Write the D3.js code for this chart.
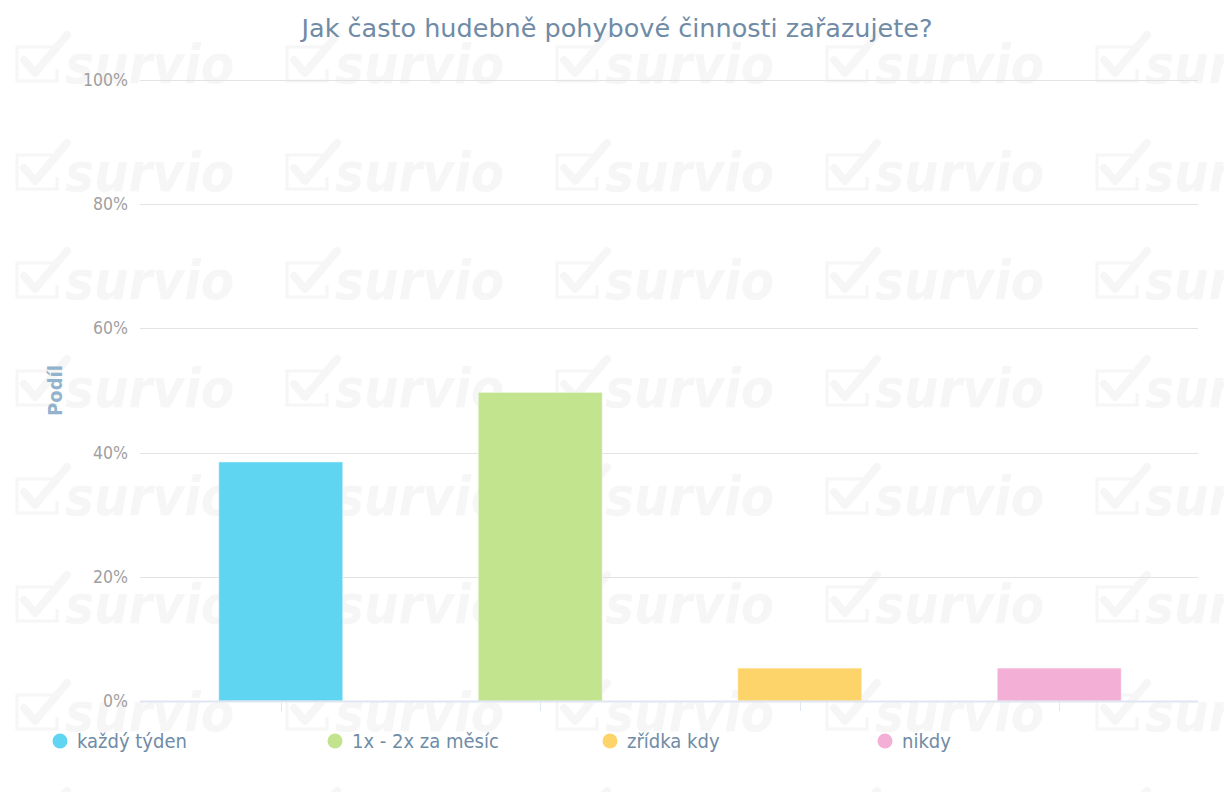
<!DOCTYPE html>
<html>
<head>
<meta charset="utf-8">
<script src="https://cdn.jsdelivr.net/npm/d3@7"></script>
<style>
  body { margin: 0; background: #fff; }
  svg { display: block; }
</style>
</head>
<body>
<div id="chart"></div>
<script>
// data
var categories = ["každý týden", "1x - 2x za měsíc", "zřídka kdy", "nikdy"];
var values = [38.5, 49.7, 5.3, 5.3];
var colors = ["#60d5f1", "#c2e48f", "#fcd469", "#f3afd5"];
var yTicks = [0, 20, 40, 60, 80, 100];

var W = 1224, H = 792;
var margin = {top: 80, right: 26, bottom: 91, left: 140};

var svg = d3.select("#chart")
  .append("svg")
    .attr("width", W)
    .attr("height", H);

// watermark, one tile repeated through a pattern
var pat = svg.append("defs")
  .append("pattern")
    .attr("id", "wm")
    .attr("patternUnits", "userSpaceOnUse")
    .attr("x", 15)
    .attr("y", -7)
    .attr("width", 270)
    .attr("height", 108);

pat.append("path")
  .attr("d", "M40,54 L2,54 L2,88 L42,88 L42,76")
  .attr("fill", "none")
  .attr("stroke", "#f6f6f6")
  .attr("stroke-width", 3);
pat.append("path")
  .attr("d", "M9,67 L20,80 L52,42")
  .attr("fill", "none")
  .attr("stroke", "#f6f6f6")
  .attr("stroke-width", 8)
  .attr("stroke-linecap", "round")
  .attr("stroke-linejoin", "round");
pat.append("text")
  .attr("x", 50)
  .attr("y", 90)
  .attr("font-family", "DejaVu Sans Condensed")
  .attr("font-weight", "bold")
  .attr("font-style", "italic")
  .attr("font-size", "54px")
  .attr("fill", "#f6f6f6")
  .text("survio");

svg.append("rect")
  .attr("width", W)
  .attr("height", H)
  .attr("fill", "url(#wm)");

var x = d3.scalePoint()
  .domain(categories)
  .range([151, 1189])
  .padding(0.5);

var y = d3.scaleLinear()
  .domain([0, 100])
  .range([H - margin.bottom, margin.top]);

var barW = x.step() * 0.478;

// grid lines
svg.append("g")
  .selectAll("line")
  .data(yTicks.filter(function(d) { return d > 0; }))
  .enter()
  .append("line")
    .attr("x1", margin.left)
    .attr("x2", W - margin.right)
    .attr("y1", function(d) { return Math.round(y(d)) + 0.5; })
    .attr("y2", function(d) { return Math.round(y(d)) + 0.5; })
    .attr("stroke", "#e3e3e3")
    .attr("stroke-width", 1);

// y labels
svg.append("g")
  .selectAll("text")
  .data(yTicks)
  .enter()
  .append("text")
    .attr("x", 128)
    .attr("y", function(d) { return y(d) + 6; })
    .attr("text-anchor", "end")
    .attr("font-family", "DejaVu Sans Condensed")
    .attr("font-size", "17.5px")
    .attr("fill", "#a0a0a0")
    .text(function(d) { return d + "%"; });

// y title
svg.append("text")
  .attr("transform", "translate(62," + ((y(0) + y(100)) / 2) + ") rotate(-90)")
  .attr("text-anchor", "middle")
  .attr("font-family", "DejaVu Sans Condensed")
  .attr("font-weight", "bold")
  .attr("font-size", "20px")
  .attr("fill", "#92b3ce")
  .text("Podíl");

// bars
svg.append("g")
  .selectAll("rect")
  .data(values)
  .enter()
  .append("rect")
    .attr("x", function(d, i) { return x(categories[i]) - barW / 2; })
    .attr("y", function(d) { return y(d); })
    .attr("width", barW)
    .attr("height", function(d) { return y(0) - y(d); })
    .attr("fill", function(d, i) { return colors[i]; })
    .attr("stroke", "#ffffff")
    .attr("stroke-opacity", 0.5)
    .attr("stroke-width", 1);

// x axis line + ticks
svg.append("line")
  .attr("x1", margin.left)
  .attr("x2", W - margin.right)
  .attr("y1", Math.round(y(0)) + 0.5)
  .attr("y2", Math.round(y(0)) + 0.5)
  .attr("stroke", "#dfe6f1")
  .attr("stroke-width", 2);

svg.append("g")
  .selectAll("line")
  .data(categories)
  .enter()
  .append("line")
    .attr("x1", function(d) { return Math.round(x(d)) + 0.5; })
    .attr("x2", function(d) { return Math.round(x(d)) + 0.5; })
    .attr("y1", y(0))
    .attr("y2", y(0) + 10)
    .attr("stroke", "#dfe6f1")
    .attr("stroke-width", 1);

// title
svg.append("text")
  .attr("x", 617)
  .attr("y", 37)
  .attr("text-anchor", "middle")
  .attr("font-family", "DejaVu Sans")
  .attr("font-size", "25.5px")
  .attr("fill", "#6f8ba6")
  .text("Jak často hudebně pohybové činnosti zařazujete?");

// legend
var leg = svg.append("g")
  .selectAll("g")
  .data(categories)
  .enter()
  .append("g")
    .attr("transform", function(d, i) { return "translate(" + (60 + i * 275) + ",741)"; });

leg.append("circle")
  .attr("r", 7.5)
  .attr("fill", function(d, i) { return colors[i]; });

leg.append("text")
  .attr("x", 17)
  .attr("y", 7)
  .attr("font-family", "DejaVu Sans Condensed")
  .attr("font-size", "20px")
  .attr("fill", "#6f8ba6")
  .text(function(d) { return d; });
</script>
</body>
</html>
